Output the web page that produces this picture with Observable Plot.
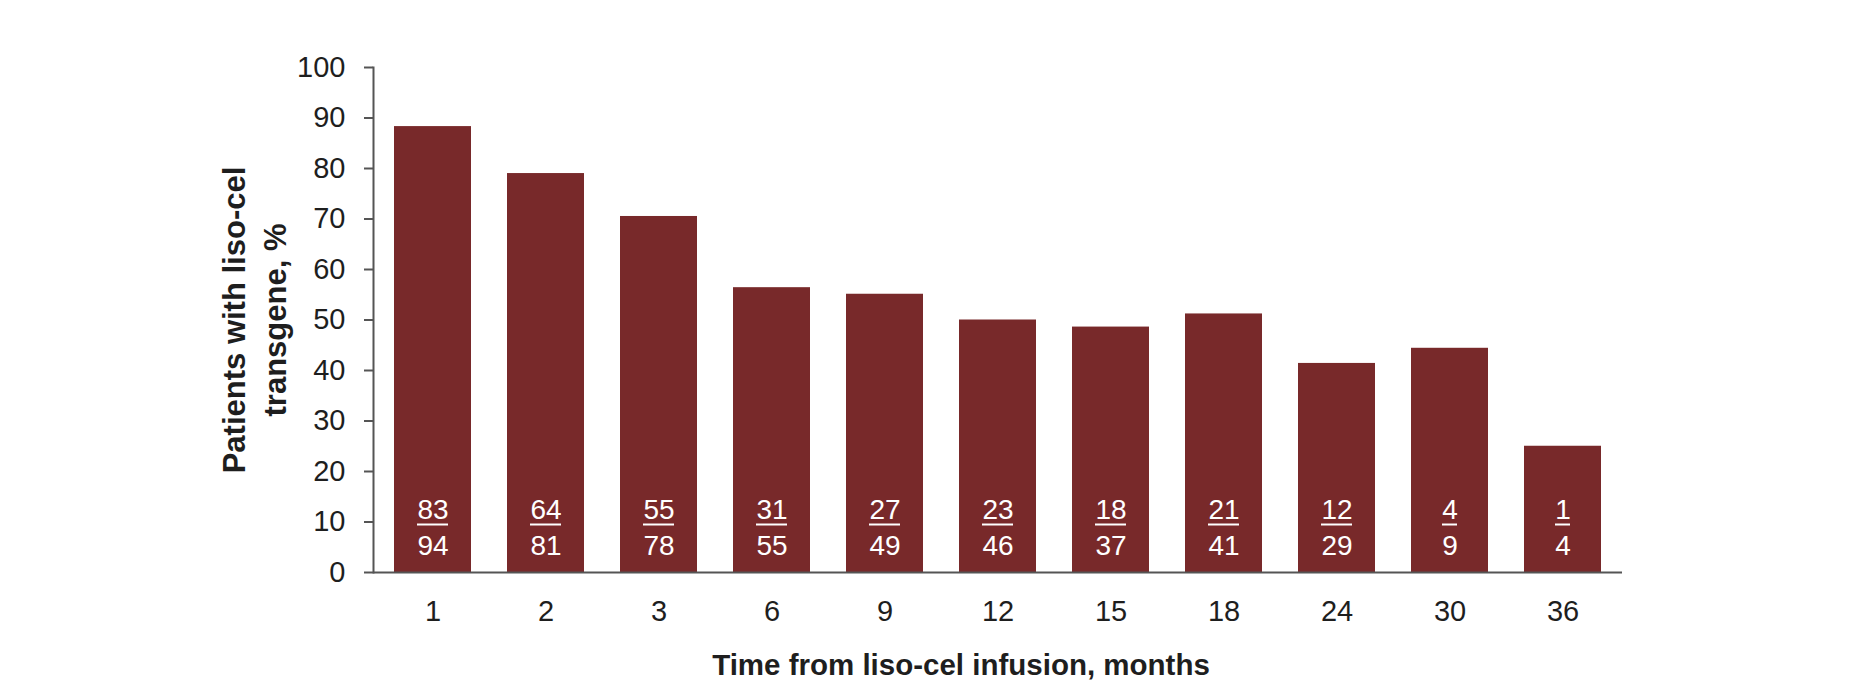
<!DOCTYPE html>
<html>
<head>
<meta charset="utf-8">
<script src="https://cdn.jsdelivr.net/npm/d3@7"></script>
<script src="https://cdn.jsdelivr.net/npm/@observablehq/plot@0.6"></script>
<style>
  html, body { margin: 0; padding: 0; background: #fff; }
  #chart svg { display: block; }
</style>
</head>
<body>
<div id="chart"></div>
<script>
const months = ["1", "2", "3", "6", "9", "12", "15", "18", "24", "30", "36"];
const percents = [88.3, 79.0, 70.5, 56.4, 55.1, 50.0, 48.6, 51.2, 41.4, 44.4, 25.0];
const numerators = [83, 64, 55, 31, 27, 23, 18, 21, 12, 4, 1];
const denominators = [94, 81, 78, 55, 49, 46, 37, 41, 29, 9, 4];
const yTicks = [0, 10, 20, 30, 40, 50, 60, 70, 80, 90, 100];
const xTitle = "Time from liso-cel infusion, months";
const yTitle = "Patients with liso-cel\ntransgene, %";

const data = months.map((m, i) => ({
  month: m, pct: percents[i], num: numerators[i], den: denominators[i]
}));

const font = "'Liberation Sans', Arial, sans-serif";
const barColor = "#78292a";
const axisColor = "#555555";

const svg = Plot.plot({
  width: 1859,
  height: 685,
  marginLeft: 373,
  marginRight: 237,
  marginTop: 67,
  marginBottom: 113,
  style: { fontFamily: font, fontSize: "29px", color: "#1e1e1e", background: "#fff" },
  x: { domain: months, paddingInner: 0.318, paddingOuter: 0.16, label: null },
  y: { domain: [0, 100], label: null },
  marks: [
    Plot.barY(data, { x: "month", y: "pct", fill: barColor }),
    Plot.frame({ anchor: "left", stroke: axisColor, strokeWidth: 2 }),
    Plot.ruleY([0], { stroke: axisColor, strokeWidth: 2 }),
    Plot.axisY({ ticks: yTicks, tickSize: 9, tickPadding: 19, stroke: axisColor, strokeWidth: 2, strokeOpacity: 1, fontSize: 29, label: null }),
    Plot.axisX({ tickSize: 0, tickPadding: 28, fontSize: 29, label: null }),
    Plot.text(data, { x: "month", frameAnchor: "bottom", text: d => String(d.num), fill: "white", fontSize: 28, lineAnchor: "middle", dy: -62 }),
    Plot.tickY(data.filter(d => d.num >= 10), { x: "month", y: () => 0, dy: -48, insetLeft: 23, insetRight: 23, stroke: "white", strokeWidth: 2 }),
    Plot.tickY(data.filter(d => d.num < 10), { x: "month", y: () => 0, dy: -48, insetLeft: 31, insetRight: 31, stroke: "white", strokeWidth: 2 }),
    Plot.text(data, { x: "month", frameAnchor: "bottom", text: d => String(d.den), fill: "white", fontSize: 28, lineAnchor: "middle", dy: -26 }),
    Plot.text([xTitle], { frameAnchor: "bottom", text: d => d, fontWeight: "bold", fontSize: 29.5, fill: "#1e1e1e", lineAnchor: "middle", dx: -37, dy: 93 }),
    Plot.text([yTitle], { frameAnchor: "left", text: d => d, fontWeight: "bold", fontSize: 31, lineHeight: 1.3, fill: "#1e1e1e", rotate: -90, lineAnchor: "middle", textAnchor: "middle", dx: -121 })
  ]
});

document.getElementById("chart").appendChild(svg);
</script>
</body>
</html>
